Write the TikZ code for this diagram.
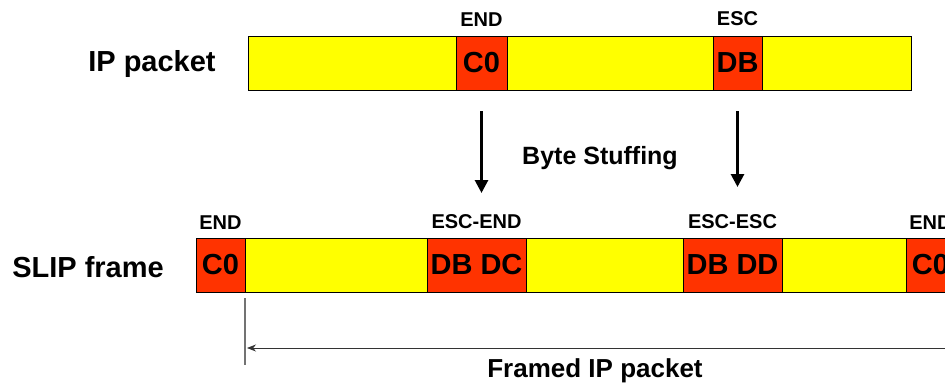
\documentclass[tikz,border=0pt]{standalone}
\usepackage{fontspec}
\setmainfont{Liberation Sans}
\usetikzlibrary{positioning,calc,arrows.meta}
\definecolor{pktyellow}{RGB}{255,255,0}
\definecolor{ctlred}{RGB}{255,51,0}
\colorlet{guidegray}{black!55}

\begin{document}
\begin{tikzpicture}[x=1pt, y=1pt,
    every node/.style={font=\bfseries, align=center, inner sep=0pt, outer sep=0pt},
    cell/.style={draw, line width=1pt, minimum height=54pt, anchor=west},
    data/.style={cell, fill=pktyellow},
    ctl/.style={cell, fill=ctlred, font=\fontsize{29}{30}\bfseries},
    tag/.style={font=\fontsize{20}{22}\bfseries},
    title/.style={font=\fontsize{29}{30}\bfseries}]
    \useasboundingbox (0,0) rectangle (945,-389);

    % IP packet row
    \node[title] (iplbl) at (152,-64) {IP packet};
    \node[data, minimum width=208pt] (ip1) at (248,-63) {};
    \node[ctl, minimum width=51pt, right=0pt of ip1] (ipend) {C0};
    \node[data, minimum width=206pt, right=0pt of ipend] (ip2) {};
    \node[ctl, minimum width=49pt, right=0pt of ip2] (ipesc) {DB};
    \node[data, minimum width=149pt, right=0pt of ipesc] (ip3) {};
    \node[tag, above=10pt of ipend] (tagend) {END};
    \node[tag, above=10pt of ipesc] (tagesc) {ESC};

    % SLIP frame row
    \node[title] (sliplbl) at (88,-267) {SLIP frame};
    \node[ctl, minimum width=49pt] (sl0) at (196,-265) {C0};
    \node[data, minimum width=182pt, right=0pt of sl0] (sl1) {};
    \node[ctl, minimum width=99pt, right=0pt of sl1] (slend) {DB DC};
    \node[data, minimum width=157pt, right=0pt of slend] (sl2) {};
    \node[ctl, minimum width=99pt, right=0pt of sl2] (slesc) {DB DD};
    \node[data, minimum width=124pt, right=0pt of slesc] (sl3) {};
    \node[ctl, minimum width=49pt, right=0pt of sl3] (slfin) {C0};
    \node[tag, above=9pt of sl0] (tagfirst) {END};
    \node[tag, above=9pt of slend] (tagescend) {ESC-END};
    \node[tag, above=9pt of slesc] (tagescesc) {ESC-ESC};
    \node[tag, above=9pt of slfin] (taglast) {END};

    % stuffing arrows
    \coordinate (s1a) at ($(ipend.south)+(0,-21)$);
    \coordinate (s1b) at ($(ipend.south)+(0,-103)$);
    \coordinate (s2a) at ($(ipesc.south)+(0,-21)$);
    \coordinate (s2b) at ($(ipesc.south)+(0,-97)$);
    \draw[-{Triangle[length=13pt,width=13pt]}, line width=2.8pt] (s1a) -- (s1b);
    \draw[-{Triangle[length=13pt,width=13pt]}, line width=2.8pt] (s2a) -- (s2b);
    \node[font=\fontsize{25}{26}\bfseries] (stuff) at (600,-158) {Byte Stuffing};

    % framed packet span
    \coordinate (g1) at ($(sl0.south east)+(0,-6)$);
    \coordinate (g2) at ($(sl0.south east)+(0,-73)$);
    \draw[guidegray, line width=1.5pt] (g1) -- (g2);
    \coordinate (f0) at ($(sl0.south east)+(2,-56)$);
    \coordinate (f1) at (960,-348);
    \draw[{Stealth[length=9pt,width=7pt]}-, line width=0.8pt, black!80] (f0) -- (f1);
    \node[font=\fontsize{26}{27}\bfseries] (framed) at (595,-371) {Framed IP packet};
\end{tikzpicture}
\end{document}
